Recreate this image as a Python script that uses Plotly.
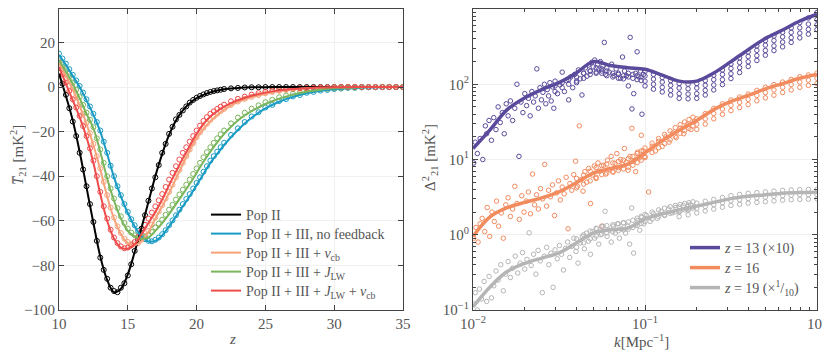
import plotly.graph_objects as go

# ---------------- left panel: global signal ----------------
z_line = [10, 10.5, 11, 11.5, 12, 12.5, 13, 13.5, 14, 14.5, 15, 15.5, 16, 16.5, 17, 17.5, 18, 18.5, 19, 19.5,
          20, 20.5, 21, 21.5, 22, 22.5, 23, 23.5, 24, 25, 26, 27, 28, 29, 30, 31, 32, 33, 34, 35]

pop2 = [6, -4, -15, -29, -45, -61, -76, -86.5, -92, -90.5, -84, -74, -63, -51.5, -40, -30, -21.5, -15, -10.5, -7.3,
        -5, -3.5, -2.4, -1.6, -1.0, -0.7, -0.4, -0.25, -0.15, -0.05, 0, 0, 0, 0, 0, 0, 0, 0, 0, 0]
nofb = [14.5, 10, 5, 0, -6, -12.5, -20, -30, -40.5, -49, -56.5, -62.5, -67, -69.3, -69, -66.5, -62.5, -58, -53.5, -49,
        -44, -39, -34, -30, -26, -22.5, -19.3, -16.4, -13.8, -9.6, -6.6, -4.4, -2.8, -1.7, -1.0, -0.5, -0.25, -0.1, 0, 0]
vcb = [10.7, 5, -1, -8.5, -16.5, -26, -37, -49, -59, -66, -70, -71, -69, -65, -59, -53.5, -47.5, -41, -34.5, -28.5,
       -23, -18.8, -15.3, -12.5, -10.2, -8.3, -6.8, -5.6, -4.6, -3.0, -1.8, -1.1, -0.6, -0.3, -0.15, -0.07, 0, 0, 0, 0]
jlw = [12, 7, 1.5, -5, -12, -18.5, -29, -41, -51, -59, -64.5, -67, -68, -67.5, -64.5, -61, -57, -52.5, -48, -43.5,
       -38.5, -33.5, -29, -24.8, -21, -17.8, -15, -12.7, -10.8, -7.6, -5.2, -3.4, -2.1, -1.2, -0.6, -0.3, -0.1, 0, 0, 0]
jlw_vcb = [9, 1.5, -6, -13.5, -22.5, -34, -48, -60, -68, -72, -72.5, -70.5, -66, -61, -56, -50.5, -44, -38, -32, -26.5,
           -21, -16.5, -13.2, -10.8, -8.8, -7.2, -6, -4.8, -3.9, -2.5, -1.5, -0.9, -0.5, -0.25, -0.1, -0.05, 0, 0, 0, 0]

# simulation points (open circles), read at the line redshifts ...
pop2_sim = [6.5, -3.5, -15.5, -29.5, -44.5, -60.5, -76.5, -86, -91.5, -90, -84.5, -73.5, -63.5, -51, -40.5, -29.5, -21, -14.5, -10.5, -7,
            -4.8, -3.3, -2.2, -1.5, -0.9, -0.6, -0.4, -0.2, -0.1, 0, 0, 0, 0, 0, 0, 0, 0, 0, 0, 0]
nofb_sim = [15, 10.5, 5.5, 0.5, -5.5, -12, -19.5, -29.5, -40, -48.5, -56, -62, -66.5, -69, -68.5, -66, -62, -57.5, -52.5, -48,
            -43, -38, -33, -29, -25, -21.5, -18.5, -15.7, -13.2, -9.2, -6.3, -4.2, -2.6, -1.6, -0.9, -0.4, -0.2, -0.1, 0, 0]
vcb_sim = [11, 5.5, -0.5, -8, -16, -25.5, -36.5, -48.5, -58.5, -65.5, -69.5, -70.5, -68.5, -64.5, -58.5, -53, -47, -40.5, -34, -28,
           -22.5, -18.3, -14.8, -12, -9.8, -8, -6.5, -5.3, -4.4, -2.8, -1.7, -1, -0.5, -0.3, -0.1, 0, 0, 0, 0, 0]
jlw_sim = [12.5, 7.5, 2, -4.5, -11.5, -18, -28, -40, -50, -58, -63.5, -66.5, -67.5, -66.5, -63, -59.5, -55, -50.5, -46, -41.5,
           -36.5, -31.5, -27, -23, -19.5, -16.3, -13.7, -11.5, -9.7, -6.8, -4.6, -3, -1.8, -1, -0.5, -0.2, 0, 0, 0, 0]
jlw_vcb_sim = [9.5, 2, -5.5, -13, -22, -33, -47, -59, -67.5, -71.5, -72, -69.5, -64.5, -59, -53.5, -48, -41.5, -35.5, -29.5, -24.5,
               -19.5, -15.2, -12, -9.8, -7.9, -6.4, -5.3, -4.3, -3.4, -2.1, -1.2, -0.7, -0.4, -0.2, -0.1, 0, 0, 0, 0, 0]

# ... and in between
z_sim2 = [10.25, 10.75, 11.25, 11.75, 12.25, 12.75, 13.25, 13.75, 14.25, 14.75, 15.25, 15.75, 16.25, 16.75, 17.25,
          17.75, 18.25, 18.75, 19.25, 19.75, 20.25, 20.75, 21.25, 21.75,
          24.5, 25.5, 26.5, 27.5, 28.5, 29.5, 30.5, 31.5, 32.5, 33.5, 34.5]
pop2_sim2 = [1.5, -9.5, -22, -37, -52.5, -69, -82, -90, -92, -88, -79.5, -68.5, -57.5, -45.5, -35, -25.5, -17.8, -12.5,
             -8.7, -5.8, -4, -2.7, -1.8, -1.2, -0.1, 0, 0, 0, 0, 0, 0, 0, 0, 0, 0]
nofb_sim2 = [12.8, 8, 3, -2.5, -8.7, -15.7, -24.5, -35.3, -44.5, -52.5, -59.3, -64.5, -68.2, -69.2, -67.5, -64.2, -59.8,
             -55, -50.2, -45.5, -40.5, -35.5, -31, -27, -11.3, -8, -5.4, -3.6, -2.2, -1.3, -0.7, -0.4, -0.15, 0, 0]
vcb_sim2 = [8.2, 2.5, -4.2, -12, -20.7, -31, -42.5, -54, -62.5, -68, -70.5, -70, -66.8, -61.7, -55.8, -50, -43.8, -37.2,
            -31, -25.2, -20.3, -16.5, -13.3, -10.8, -3.6, -2.2, -1.3, -0.8, -0.4, -0.2, -0.1, 0, 0, 0, 0]
jlw_sim2 = [10, 4.8, -1.2, -8, -14.7, -23, -34, -45.5, -54.3, -61, -65.3, -67.3, -67.3, -65, -61.3, -57.3, -52.8, -48.2,
            -43.8, -39, -34, -29.2, -25, -21.2, -8.2, -5.7, -3.8, -2.5, -1.4, -0.8, -0.4, -0.15, 0, 0, 0]
jlw_vcb_sim2 = [5.8, -1.8, -9.2, -17.5, -27.5, -40, -53.5, -64, -70, -72.3, -71, -67.2, -61.8, -56.3, -50.8, -44.8, -38.5,
                -32.5, -27, -22, -17.3, -13.5, -10.9, -8.8, -2.7, -1.6, -0.9, -0.5, -0.3, -0.15, 0, 0, 0, 0, 0]

left_names = ["Pop II", "Pop II + III, no feedback", "Pop II + III + <i>v</i><sub>cb</sub>",
              "Pop II + III + <i>J</i><sub>LW</sub>", "Pop II + III + <i>J</i><sub>LW</sub> + <i>v</i><sub>cb</sub>"]
left_colors = ["#000000", "#1a9bc3", "#f6a27a", "#7ab55c", "#ee4b4b"]

# ---------------- right panel: power spectra ----------------
k_line = [0.01, 0.0126, 0.0158, 0.02, 0.0251, 0.0316, 0.0398, 0.0501, 0.0631, 0.0794, 0.1,
          0.126, 0.158, 0.2, 0.251, 0.316, 0.398, 0.501, 0.631, 0.794, 1.0]
ps_z13 = [14, 25, 46, 66, 85, 105, 141, 200, 178, 166, 158, 132, 110, 110, 141, 200, 288, 407, 525, 692, 851]
ps_z16 = [0.95, 1.74, 2.29, 2.69, 3.09, 3.72, 4.9, 6.6, 7.6, 8.7, 12.3, 17.8, 24.5, 33, 46, 59, 71, 87, 102, 120, 135]
ps_z19 = [0.11, 0.204, 0.324, 0.417, 0.49, 0.575, 0.776, 1.05, 1.17, 1.23, 1.62, 1.9, 2.14, 2.4, 2.69, 3.02, 3.24,
          3.39, 3.55, 3.63, 3.67]

# scattered simulation points at low k
k_s13 = [0.0101, 0.0103, 0.0106, 0.011, 0.0114, 0.0118, 0.012, 0.0124, 0.0128, 0.0132, 0.0136, 0.014, 0.0144, 0.0148,
         0.0152, 0.0156, 0.016, 0.0165, 0.017, 0.0175, 0.018, 0.0185, 0.019, 0.0195, 0.02, 0.0205, 0.021, 0.0215,
         0.022, 0.0225, 0.023, 0.0235, 0.024, 0.0245, 0.025, 0.0255, 0.026, 0.0265, 0.027, 0.0275, 0.028, 0.0285,
         0.029, 0.0295, 0.030, 0.031, 0.032, 0.033, 0.034, 0.035, 0.036, 0.037, 0.038, 0.039, 0.040, 0.041, 0.042,
         0.043, 0.044, 0.045, 0.046, 0.047, 0.048, 0.049, 0.050, 0.051, 0.052, 0.053, 0.054, 0.055, 0.056, 0.057,
         0.058, 0.059, 0.060, 0.062, 0.064, 0.066, 0.068, 0.070, 0.072, 0.074, 0.076, 0.078, 0.080, 0.082, 0.084,
         0.086, 0.088, 0.090, 0.092, 0.094, 0.096, 0.098]
d_s13 = [9, 17, 12, 19, 10, 28, 22, 33, 18, 36, 25, 50, 31, 42, 22, 55, 38, 60, 33, 48, 100, 11, 58, 42, 75, 52, 65,
         38, 80, 58, 70, 160, 48, 90, 62, 78, 100, 55, 85, 70, 105, 60, 92, 48, 110, 75, 98, 145, 80, 112, 62, 125,
         90, 135, 105, 155, 118, 72, 140, 165, 128, 180, 150, 195, 170, 210, 140, 185, 160, 200, 150, 175, 360, 135,
         165, 145, 185, 130, 160, 140, 120, 230, 150, 130, 95, 420, 47, 75, 140, 270, 125, 150, 40, 135]

k_s16 = [0.0101, 0.0104, 0.0107, 0.011, 0.0113, 0.0117, 0.0121, 0.0125, 0.0129, 0.0133, 0.0137, 0.0141, 0.0146, 0.015,
         0.0155, 0.016, 0.0165, 0.017, 0.0175, 0.018, 0.0186, 0.0192, 0.0198, 0.0204, 0.021, 0.0216, 0.0222, 0.0228,
         0.0234, 0.024, 0.0247, 0.0254, 0.0261, 0.0268, 0.0275, 0.0282, 0.029, 0.0298, 0.0306, 0.0314, 0.0322, 0.033,
         0.0339, 0.0348, 0.0357, 0.0366, 0.0375, 0.0385, 0.0395, 0.0405, 0.0415, 0.0425, 0.0436, 0.0447, 0.0458,
         0.047, 0.0482, 0.0494, 0.0507, 0.052, 0.0533, 0.0547, 0.0561, 0.0575, 0.059, 0.0605, 0.062, 0.0636, 0.0652,
         0.0669, 0.0686, 0.0704, 0.0722, 0.074, 0.0759, 0.0778, 0.0798, 0.0818, 0.0839, 0.086, 0.0882, 0.0905,
         0.0928, 0.0952, 0.0976, 0.1, 0.105, 0.11, 0.115, 0.12, 0.126, 0.132, 0.138, 0.145, 0.152, 0.16, 0.168,
         0.176, 0.185, 0.194]
d_s16 = [0.9, 1.25, 0.8, 1.4, 1.65, 1.1, 2.3, 0.95, 2.0, 1.5, 2.8, 1.3, 1.95, 0.9, 2.5, 3.1, 1.75, 2.2, 4.4, 2.6, 1.6,
         3.3, 2.0, 2.8, 3.7, 1.9, 6.4, 2.5, 3.4, 2.2, 4.1, 3.0, 8.6, 2.4, 3.9, 3.2, 4.6, 1.8, 3.6, 5.2, 2.9, 4.3, 3.5,
         5.8, 1.2, 4.8, 3.9, 6.3, 9.5, 4.4, 28, 5.4, 3.8, 6.9, 5.0, 7.6, 2.6, 6.2, 8.2, 5.6, 9.0, 7.0, 1.3, 8.4, 6.4,
         9.8, 7.4, 11, 6.8, 8.9, 12, 7.8, 10, 8.5, 14, 9.2, 7.2, 11, 26, 9.6, 6.9, 12.5, 10.5, 21, 13, 11, 3.7, 15, 13,
         17.5, 15, 20, 17, 22.5, 19.5, 26, 22, 29, 25, 32]

k_s19 = [0.0101, 0.0103, 0.0106, 0.0109, 0.0112, 0.0116, 0.012, 0.0124, 0.0128, 0.0132, 0.0136, 0.014, 0.0145, 0.015,
         0.0155, 0.016, 0.0165, 0.017, 0.0176, 0.0182, 0.0188, 0.0194, 0.02, 0.0206, 0.0212, 0.0218, 0.0225, 0.0232,
         0.0239, 0.0246, 0.0253, 0.026, 0.0268, 0.0276, 0.0284, 0.0292, 0.03, 0.0309, 0.0318, 0.0327, 0.0336, 0.0345,
         0.0355, 0.0365, 0.0375, 0.0386, 0.0397, 0.0408, 0.042, 0.0432, 0.0444, 0.0456, 0.0469, 0.0482, 0.0496, 0.051,
         0.0524, 0.0539, 0.0554, 0.057, 0.0586, 0.0602, 0.0619, 0.0636, 0.0654, 0.0672, 0.0691, 0.071, 0.073, 0.075,
         0.0771, 0.0792, 0.0814, 0.0836, 0.0859, 0.0883, 0.0907, 0.0932, 0.0958, 0.0984, 0.102, 0.107, 0.112, 0.118,
         0.124, 0.13, 0.137, 0.144, 0.151, 0.159, 0.167, 0.175, 0.184, 0.193]
d_s19 = [0.12, 0.17, 0.1, 0.19, 0.14, 0.24, 0.13, 0.28, 0.145, 0.21, 0.33, 0.25, 0.4, 0.18, 0.3, 0.44, 0.27, 0.36, 0.52,
         0.31, 0.42, 0.58, 0.35, 0.47, 1.06, 0.39, 0.55, 0.3, 0.62, 0.45, 0.17, 0.52, 0.68, 0.4, 0.57, 0.2, 0.63, 0.48,
         0.72, 0.55, 0.34, 0.66, 0.8, 0.5, 0.7, 0.9, 0.6, 0.42, 0.78, 0.95, 0.65, 1.05, 0.82, 0.55, 1.1, 0.9, 1.2, 0.75,
         1.0, 1.3, 2.05, 0.95, 1.15, 0.8, 1.3, 1.05, 1.4, 0.9, 1.2, 1.45, 1.05, 1.3, 0.75, 2.27, 0.57, 1.35, 1.55, 1.15,
         1.7, 1.4, 1.8, 1.5, 1.9, 1.65, 2.05, 1.8, 2.2, 1.95, 2.3, 2.05, 2.45, 2.2, 2.5, 2.35]

# denser clusters of simulation points around the curves at intermediate k
k_c13 = [0.03, 0.033, 0.036, 0.04, 0.044, 0.048, 0.052, 0.056, 0.06, 0.065, 0.07, 0.075, 0.08, 0.085, 0.09, 0.095]
c13_a = [95, 105, 115, 125, 140, 150, 165, 160, 150, 140, 135, 130, 140, 135, 130, 125]
c13_b = [80, 90, 100, 110, 120, 135, 145, 140, 130, 125, 120, 118, 125, 120, 115, 112]

k_c = [0.04, 0.044, 0.048, 0.052, 0.056, 0.06, 0.065, 0.07, 0.075, 0.08, 0.085, 0.09, 0.095, 0.1,
       0.11, 0.12, 0.13, 0.14, 0.15, 0.16, 0.17, 0.18, 0.19]
c16_a = [5.6, 6.2, 7.0, 7.8, 8.3, 8.7, 9.0, 9.4, 9.8, 10.3, 11, 12, 13, 14.2, 16.5, 19, 21.5, 24, 26.5, 29, 31.5, 34, 36.5]
c16_b = [4.2, 4.7, 5.2, 5.8, 6.3, 6.6, 6.9, 7.2, 7.5, 7.9, 8.4, 9.1, 9.8, 10.6, 12.4, 14.3, 16.3, 18.3, 20.3, 22.3, 24.2, 26, 28]
c19_a = [0.88, 1.0, 1.12, 1.22, 1.28, 1.32, 1.36, 1.4, 1.43, 1.48, 1.56, 1.66, 1.76, 1.86, 2.0, 2.14, 2.26, 2.36, 2.45,
         2.53, 2.6, 2.67, 2.74]
c19_b = [0.68, 0.78, 0.88, 0.96, 1.02, 1.06, 1.1, 1.13, 1.16, 1.19, 1.25, 1.33, 1.41, 1.5, 1.62, 1.74, 1.84, 1.93, 2.01,
         2.08, 2.14, 2.2, 2.26]

# banded simulation points at high k (several realisations)
k_band = [0.1, 0.112, 0.126, 0.141, 0.158, 0.178, 0.2, 0.224, 0.251, 0.282, 0.316, 0.355, 0.398, 0.447, 0.501,
          0.562, 0.631, 0.708, 0.794, 0.891, 1.0]
b13_a = [148, 135, 123, 112, 102, 100, 102, 112, 132, 155, 186, 224, 269, 324, 380, 437, 490, 562, 660, 760, 900]
b13_b = [129, 117, 107, 97, 89, 87, 89, 97, 115, 135, 162, 195, 234, 282, 331, 380, 426, 489, 562, 630, 724]
b13_c = [110, 100, 91, 83, 75, 74, 75, 83, 98, 115, 138, 166, 199, 240, 281, 323, 363, 416, 478, 536, 616]
b13_d = [95, 86, 79, 72, 65, 64, 65, 72, 84, 99, 119, 143, 172, 207, 243, 280, 314, 360, 413, 463, 532]

k_band16 = [0.2, 0.224, 0.251, 0.282, 0.316, 0.355, 0.398, 0.447, 0.501, 0.562, 0.631, 0.708, 0.794, 0.891, 1.0]
b16_a = [34.7, 40.7, 47.9, 55, 61.7, 67.6, 74, 83, 91, 99, 107, 116, 126, 133, 141]
b16_b = [29.5, 34.7, 40.7, 46.8, 52.5, 57.5, 63, 70.8, 77.6, 84, 91, 99, 107, 113.5, 120]
b16_c = [25.1, 29.5, 34.7, 39.8, 44.7, 49, 53.7, 60.3, 66, 71.6, 77.6, 84, 91, 96.6, 102]

k_band19 = [0.158, 0.178, 0.2, 0.224, 0.251, 0.282, 0.316, 0.355, 0.398, 0.447, 0.501, 0.562, 0.631, 0.708,
            0.794, 0.891, 1.0]
b19_a = [2.34, 2.48, 2.63, 2.79, 2.95, 3.13, 3.31, 3.43, 3.55, 3.63, 3.72, 3.80, 3.89, 3.94, 3.98, 4.01, 4.03]
b19_b = [2.0, 2.11, 2.24, 2.37, 2.51, 2.66, 2.82, 2.92, 3.02, 3.09, 3.16, 3.24, 3.31, 3.35, 3.39, 3.41, 3.43]
b19_c = [1.74, 1.84, 1.95, 2.07, 2.19, 2.32, 2.45, 2.54, 2.63, 2.69, 2.75, 2.82, 2.88, 2.92, 2.95, 2.97, 2.99]

right_names = ["<i>z</i> = 13 (×10)", "<i>z</i> = 16", "<i>z</i> = 19 (×<sup>1</sup>/<sub>10</sub>)"]
c13, c16, c19 = "#5b4a9b", "#f28b5e", "#b5b5b5"

FONT = "Liberation Serif"
# the page has an 8px body margin, so the figure is a little smaller and
# positions below are given in page pixels and shifted by OFF
OFF = 8
FW, FH = 830 - OFF, 352 - OFF


def fx(p):
    return (p - OFF) / FW


def fy(p):
    return 1 - (p - OFF) / FH


fig = go.Figure()

# left panel
left_lines = [pop2, nofb, vcb, jlw, jlw_vcb]
left_sims = [pop2_sim, nofb_sim, vcb_sim, jlw_sim, jlw_vcb_sim]
left_sims2 = [pop2_sim2, nofb_sim2, vcb_sim2, jlw_sim2, jlw_vcb_sim2]
for sim, sim2, col in zip(left_sims, left_sims2, left_colors):
    m = dict(symbol="circle-open", size=5, color=col, line=dict(width=1, color=col))
    fig.add_trace(go.Scatter(x=z_line, y=sim, mode="markers", showlegend=False, xaxis="x", yaxis="y", marker=m))
    fig.add_trace(go.Scatter(x=z_sim2, y=sim2, mode="markers", showlegend=False, xaxis="x", yaxis="y", marker=m))
for i, (vals, col, name) in enumerate(zip(left_lines, left_colors, left_names)):
    fig.add_trace(go.Scatter(x=z_line, y=vals, mode="lines", name=name, xaxis="x", yaxis="y",
                             line=dict(color=col, width=2, shape="spline"),
                             legend="legend" if i == 0 else "legend%d" % (i + 1)))

# right panel
open_m = lambda c: dict(symbol="circle-open", size=4.5, color=c, line=dict(width=1, color=c))
point_sets = [(k_s13, d_s13, c13), (k_s16, d_s16, c16), (k_s19, d_s19, c19),
              (k_c13, c13_a, c13), (k_c13, c13_b, c13), (k_c, c16_a, c16), (k_c, c16_b, c16),
              (k_c, c19_a, c19), (k_c, c19_b, c19)]
point_sets += [(k_band, row, c13) for row in [b13_a, b13_b, b13_c, b13_d]]
point_sets += [(k_band16, row, c16) for row in [b16_a, b16_b, b16_c]]
point_sets += [(k_band19, row, c19) for row in [b19_a, b19_b, b19_c]]
for kk, dd, col in point_sets:
    fig.add_trace(go.Scatter(x=kk, y=dd, mode="markers", showlegend=False, xaxis="x2", yaxis="y2", marker=open_m(col)))

for i, (vals, col, name) in enumerate(zip([ps_z13, ps_z16, ps_z19], [c13, c16, c19], right_names)):
    fig.add_trace(go.Scatter(x=k_line, y=vals, mode="lines", name=name, xaxis="x2", yaxis="y2",
                             line=dict(color=col, width=3.5, shape="spline"), legend="legend%d" % (i + 6)))

axis_common = dict(showline=True, linecolor="#444", linewidth=1, mirror="allticks", ticks="inside",
                   ticklen=5, tickcolor="#444", showgrid=True, gridcolor="#f0f0f0", zeroline=False,
                   automargin=False, tickfont=dict(family=FONT, size=15, color="#555"))

# minor tick positions for the log axes
minor_x = [m * 10.0 ** e for e in (-2, -1) for m in range(2, 10)]
minor_y = [m * 10.0 ** e for e in (-1, 0, 1, 2) for m in range(2, 10)]
minor_style = dict(ticks="inside", ticklen=3, tickcolor="#444", showgrid=False, tickmode="array")

# one single-entry legend per row, so the rows sit where the reference has them
leg_font = dict(family=FONT, size=14, color="#555")
legends = {}
for i, yy in enumerate([215, 234, 253, 272, 291]):
    legends["legend" if i == 0 else "legend%d" % (i + 1)] = dict(
        x=fx(206), y=fy(yy), xanchor="left", yanchor="middle", bgcolor="rgba(0,0,0,0)", font=leg_font)
for i, yy in enumerate([248, 268, 288]):
    legends["legend%d" % (i + 6)] = dict(
        x=fx(685), y=fy(yy), xanchor="left", yanchor="middle", bgcolor="rgba(0,0,0,0)", font=leg_font)

fig.update_layout(
    width=FW, height=FH, margin=dict(l=0, r=0, t=0, b=0, autoexpand=False),
    paper_bgcolor="white", plot_bgcolor="white", showlegend=True,
    xaxis=dict(domain=[fx(59), fx(403)], range=[10, 35], tickvals=[10, 15, 20, 25, 30, 35], anchor="y", **axis_common),
    yaxis=dict(domain=[fy(310), fy(9)], range=[-100, 35], tickvals=[-100, -80, -60, -40, -20, 0, 20], anchor="x",
               **axis_common),
    xaxis2=dict(domain=[fx(473), fx(817)], type="log", range=[-2, 0], tickvals=[0.01, 0.1, 1],
                ticktext=["10<sup>−2</sup>", "10<sup>−1</sup>", "10<sup>0</sup>"], anchor="y2",
                minor=dict(tickvals=minor_x, **minor_style), **axis_common),
    yaxis2=dict(domain=[fy(310), fy(9)], type="log", range=[-1, 3], tickvals=[0.1, 1, 10, 100, 1000],
                ticktext=["10<sup>−1</sup>", "10<sup>0</sup>", "10<sup>1</sup>", "10<sup>2</sup>", "10<sup>3</sup>"],
                anchor="x2", minor=dict(tickvals=minor_y, **minor_style), **axis_common),
    **legends,
)

ann_font = dict(family=FONT, size=15, color="#555")
ann = dict(xref="paper", yref="paper", showarrow=False, xanchor="center", yanchor="middle", font=ann_font)
fig.add_annotation(x=fx(18), y=fy(155), textangle=-90,
                   text="<i>T\u0305</i><sub>21</sub> [mK<sup>2</sup>]", **ann)
fig.add_annotation(x=fx(232), y=fy(339), text="<i>z</i>", **ann)
fig.add_annotation(x=fx(430), y=fy(158), textangle=-90,
                   text="Δ<sup>2</sup><sub>21</sub> [mK<sup>2</sup>]", **ann)
fig.add_annotation(x=fx(641), y=fy(341), text="<i>k</i>[Mpc<sup>−1</sup>]", **ann)

fig.write_html("out.html")
